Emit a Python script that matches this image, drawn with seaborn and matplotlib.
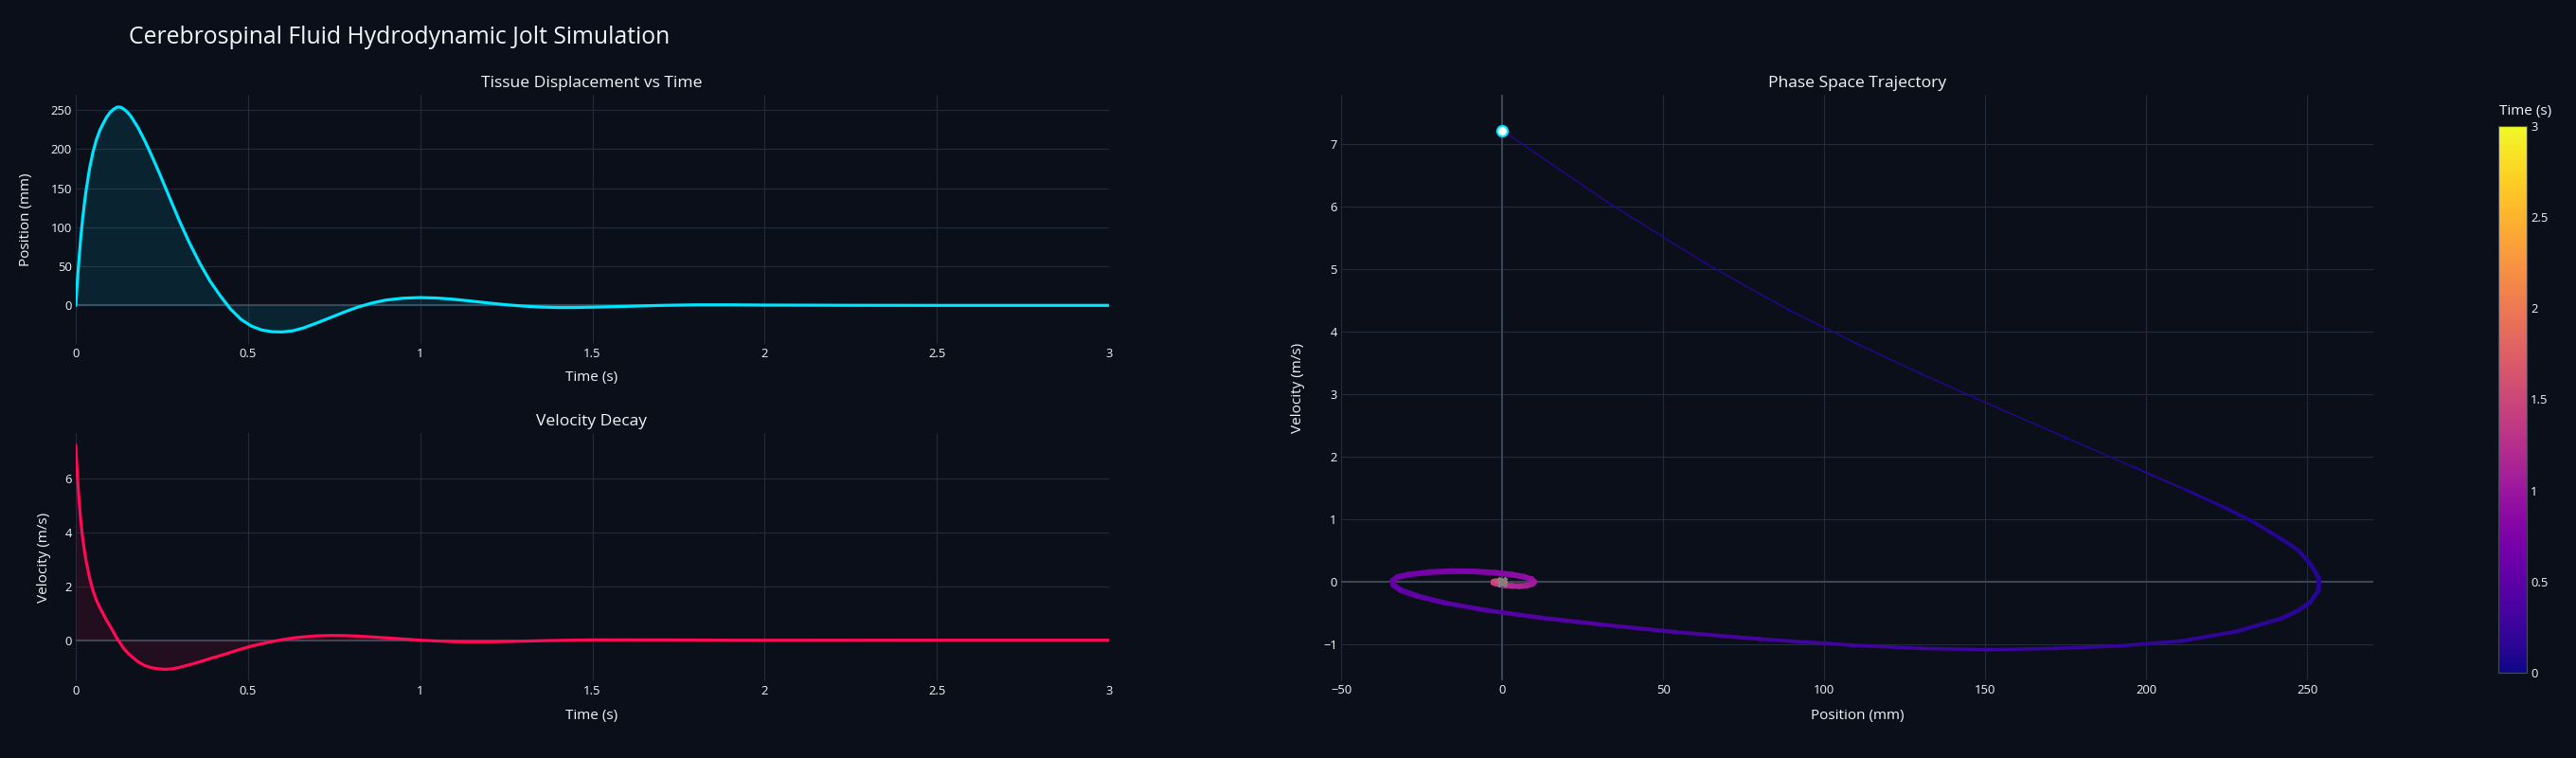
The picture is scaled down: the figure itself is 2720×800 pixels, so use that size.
import numpy as np
import pandas as pd
import matplotlib
matplotlib.use("Agg")
import matplotlib.pyplot as plt
import seaborn as sns
from matplotlib.collections import LineCollection
from matplotlib.colors import Normalize
from matplotlib.cm import ScalarMappable

# values
time_s = [0.0, 0.005, 0.01, 0.015, 0.02, 0.025, 0.03, 0.04, 0.05, 0.06, 0.07, 0.08,
          0.09, 0.10, 0.11, 0.12, 0.13, 0.14, 0.15, 0.16, 0.18, 0.20, 0.22, 0.24,
          0.26, 0.28, 0.30, 0.33, 0.36, 0.39, 0.42, 0.45, 0.48, 0.51, 0.54, 0.57,
          0.60, 0.63, 0.66, 0.70, 0.74, 0.78, 0.82, 0.86, 0.90, 0.95, 1.00, 1.05,
          1.10, 1.15, 1.20, 1.25, 1.30, 1.35, 1.40, 1.45, 1.50, 1.60, 1.70, 1.80,
          1.90, 2.00, 2.25, 2.50, 2.75, 3.00]
position_mm = [0, 34, 63, 89, 111, 130, 147, 175, 196, 212, 224, 233,
               241, 247, 251, 253.6, 253.5, 251, 247, 242, 228, 211, 192, 172,
               151, 130, 109, 80, 54, 31, 12, -5, -18, -26.5, -31.5, -33.7,
               -34.0, -32.5, -29, -22.5, -15.5, -8.5, -2, 3, 6.8, 9.2, 10, 9.4,
               7.7, 5.4, 3.0, 0.8, -0.9, -2.1, -2.7, -2.7, -2.3, -1.2, 0.0, 0.7,
               0.7, 0.4, 0.1, 0.0, 0.0, 0.0]
velocity_ms = [7.22, 6.03, 5.10, 4.35, 3.79, 3.33, 2.94, 2.31, 1.84, 1.48, 1.20, 0.97,
               0.72, 0.52, 0.29, 0.06, -0.13, -0.32, -0.46, -0.58, -0.79, -0.94, -1.02, -1.06,
               -1.08, -1.06, -1.01, -0.91, -0.80, -0.68, -0.57, -0.45, -0.33, -0.22, -0.13, -0.05,
               0.02, 0.08, 0.12, 0.16, 0.175, 0.17, 0.15, 0.12, 0.085, 0.045, 0.0, -0.03,
               -0.055, -0.065, -0.06, -0.05, -0.035, -0.02, -0.008, 0.003, 0.01, 0.012, 0.01, 0.004,
               -0.002, -0.003, -0.001, 0.0, 0.0, 0.0]

time_ticks = [0, 0.5, 1, 1.5, 2, 2.5, 3]
time_labels = ["0", "0.5", "1", "1.5", "2", "2.5", "3"]
pos_ticks = [0, 50, 100, 150, 200, 250]
vel_ticks = [0, 2, 4, 6]
phase_x_ticks = [-50, 0, 50, 100, 150, 200, 250]
phase_y_ticks = [-1, 0, 1, 2, 3, 4, 5, 6, 7]

df = pd.DataFrame({"t": time_s, "x": position_mm, "v": velocity_ms})

BG = "#0b0f19"
GRID = "#222b39"
ZERO = "#3a4656"
TXT = "#f2f5fa"
CYAN = "#00e5ff"
RED = "#ff0a54"
TICK_FS = 9.4

sns.set_theme(style="dark")
plt.rcParams["font.family"] = ["Open Sans", "DejaVu Sans"]
plt.rcParams["axes.facecolor"] = BG
plt.rcParams["figure.facecolor"] = BG

W, H = 2720, 800
fig = plt.figure(figsize=(27.2, 8), dpi=100)


def box(x0, y0, x1, y1):
    return [x0 / W, 1 - y1 / H, (x1 - x0) / W, (y1 - y0) / H]


def style_axes(ax, xticks, xlabels, yticks, ylabels):
    for s in ax.spines.values():
        s.set_visible(False)
    ax.set_xticks(xticks)
    ax.set_xticklabels(xlabels)
    ax.set_yticks(yticks)
    ax.set_yticklabels(ylabels)
    ax.tick_params(length=0, labelsize=TICK_FS, colors=TXT, pad=3)
    ax.grid(False)
    for xt in xticks:
        ax.axvline(xt, color=GRID, lw=0.8, zorder=0)
    for yt in yticks:
        ax.axhline(yt, color=GRID, lw=0.8, zorder=0)
    ax.set_xlabel("")
    ax.set_ylabel("")


# --- Tissue displacement ---
ax1 = fig.add_axes(box(80, 100, 1171, 363))
ax1.fill_between(df["t"], df["x"], 0, color=CYAN, alpha=0.1, lw=0)
sns.lineplot(data=df, x="t", y="x", ax=ax1, color=CYAN, lw=2.3, sort=False)
ax1.set_xlim(0, 3)
ax1.set_ylim(-49.3, 269.4)
style_axes(ax1, time_ticks, time_labels, pos_ticks, [str(v) for v in pos_ticks])
ax1.axhline(0, color=ZERO, lw=1.5, zorder=0.5)

# --- Velocity decay ---
ax2 = fig.add_axes(box(80, 457, 1171, 719))
ax2.fill_between(df["t"], df["v"], 0, color=RED, alpha=0.1, lw=0)
sns.lineplot(data=df, x="t", y="v", ax=ax2, color=RED, lw=2.3, sort=False)
ax2.set_xlim(0, 3)
ax2.set_ylim(-1.52, 7.67)
style_axes(ax2, time_ticks, time_labels, vel_ticks, [str(v) for v in vel_ticks])
ax2.axhline(0, color=ZERO, lw=1.5, zorder=0.5)

# --- Phase space ---
ax3 = fig.add_axes(box(1416, 100, 2506, 718))
ax3.set_xlim(-50, 270.5)
ax3.set_ylim(-1.57, 7.79)
style_axes(ax3, phase_x_ticks, [str(v).replace("-", "\u2212") for v in phase_x_ticks],
           phase_y_ticks, [str(v).replace("-", "\u2212") for v in phase_y_ticks])
ax3.axhline(0, color=ZERO, lw=1.5, zorder=0.5)
ax3.axvline(0, color=ZERO, lw=1.5, zorder=0.5)

norm = Normalize(0, 3)
cmap = plt.get_cmap("plasma")
pts = np.column_stack([df["x"], df["v"]])
segs = np.stack([pts[:-1], pts[1:]], axis=1)
pix = ax3.transData.transform(pts)
dt = np.diff(df["t"].to_numpy())
speed = np.hypot(*np.diff(pix, axis=0).T) / dt
widths = np.interp(speed, [600, 1300, 3700, 7000], [6, 5, 3.5, 1.4]) * 0.72
tmid = (df["t"].to_numpy()[:-1] + df["t"].to_numpy()[1:]) / 2
seg_colors = cmap(norm(np.maximum(tmid, 0.12)))
lc = LineCollection(segs, colors=seg_colors, linewidths=widths, capstyle="round", zorder=2)
ax3.add_collection(lc)
sizes = (np.interp(df["t"], [0, 0.3, 0.7], [3.5, 4.5, 6]) * 0.72) ** 2
ax3.scatter(df["x"], df["v"], c=df["t"], cmap=cmap, norm=norm, s=sizes, lw=0, zorder=3)
ax3.scatter(df["x"].iloc[:1], df["v"].iloc[:1], s=(0.72 * 11) ** 2, facecolor="white",
            edgecolor=CYAN, linewidth=1.6, zorder=5)
ax3.scatter(df["x"].iloc[-1:], df["v"].iloc[-1:], s=(0.72 * 12) ** 2, marker="X",
            color="#808080", lw=0, zorder=5)

# colorbar
cax = fig.add_axes(box(2638, 133, 2668, 710))
cb = fig.colorbar(ScalarMappable(norm=norm, cmap=cmap), cax=cax)
cb.set_ticks([0, 0.5, 1, 1.5, 2, 2.5, 3])
cb.set_ticklabels(["0", "0.5", "1", "1.5", "2", "2.5", "3"])
cb.ax.tick_params(length=0, labelsize=TICK_FS, colors=TXT, pad=3)
cb.outline.set_edgecolor("#444b5a")
cb.outline.set_linewidth(0.8)


# texts
def ftext(x, y, s, size, **kw):
    fig.text(x / W, 1 - y / H, s, fontsize=size, color=TXT, va="center", **kw)


ftext(136, 40, "Cerebrospinal Fluid Hydrodynamic Jolt Simulation", 17.8, ha="left")
ftext(625, 88, "Tissue Displacement vs Time", 12.6, ha="center")
ftext(625, 445, "Velocity Decay", 12.6, ha="center")
ftext(1961, 88, "Phase Space Trajectory", 12.6, ha="center")
ftext(625, 398, "Time (s)", 11, ha="center")
ftext(625, 755, "Time (s)", 11, ha="center")
ftext(1961, 755, "Position (mm)", 11, ha="center")
ftext(28, 232, "Position (mm)", 11, ha="center", rotation=90)
ftext(46, 588, "Velocity (m/s)", 11, ha="center", rotation=90)
ftext(1371, 409, "Velocity (m/s)", 11, ha="center", rotation=90)
ftext(2667, 117, "Time (s)", 11, ha="center")

fig.savefig("out.png", dpi=100, facecolor=BG)
